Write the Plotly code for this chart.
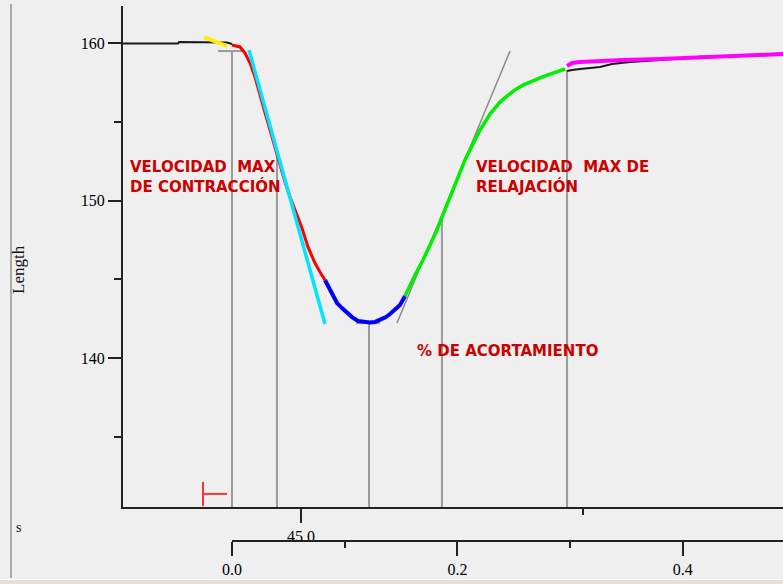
import plotly.graph_objects as go

# Sarcomere length trace (time in s, length in arbitrary units)
base_t = [-0.0967, -0.0479, -0.0470, -0.0089, -0.0044, 0.0]
base_L = [159.97, 159.97, 160.06, 160.06, 160.03, 159.94]

baseline_fit_t = [-0.0248, -0.0151, -0.0044]
baseline_fit_L = [160.38, 160.13, 159.81]

contr_t = [0.0, 0.0071, 0.0115, 0.0160, 0.0204, 0.0248, 0.0293, 0.0337, 0.0382,
           0.0426, 0.0470, 0.0515, 0.0577, 0.0621, 0.0674, 0.0736, 0.0781, 0.0825]
contr_L = [159.87, 159.75, 159.37, 158.73, 157.84, 156.63, 155.56, 154.48, 153.40,
           152.19, 151.17, 150.22, 149.08, 148.25, 147.05, 146.03, 145.46, 144.95]

peak_t = [0.0825, 0.0870, 0.0932, 0.0976, 0.1020, 0.1065, 0.1118, 0.1171, 0.1224,
          0.1269, 0.1313, 0.1366, 0.1402, 0.1446, 0.1491, 0.1535]
peak_L = [144.95, 144.32, 143.49, 143.17, 142.86, 142.60, 142.35, 142.29, 142.25,
          142.29, 142.41, 142.60, 142.79, 143.05, 143.37, 143.94]

relax_t = [0.1535, 0.1579, 0.1624, 0.1695, 0.1757, 0.1819, 0.1863, 0.1934, 0.1996,
           0.2067, 0.2138, 0.2201, 0.2289, 0.2378, 0.2440, 0.2511, 0.2582, 0.2662,
           0.2733, 0.2822, 0.2884, 0.2955]
relax_L = [143.94, 144.63, 145.27, 146.22, 147.17, 148.13, 148.95, 150.16, 151.30,
           152.57, 153.65, 154.48, 155.49, 156.25, 156.63, 157.02, 157.33, 157.59,
           157.78, 158.03, 158.16, 158.35]

tail_t = [0.2973, 0.3017, 0.3088, 0.3177, 0.3265, 0.3372, 0.3532, 0.3798, 0.4153,
          0.4357, 0.4508, 0.4685, 0.4889]
tail_L = [158.22, 158.29, 158.35, 158.41, 158.48, 158.67, 158.79, 158.92, 159.12,
          159.16, 159.20, 159.28, 159.33]

recov_fit_t = [0.2973, 0.3017, 0.3088, 0.3265, 0.3469, 0.3798, 0.4153, 0.4357, 0.4685, 0.4889]
recov_fit_L = [158.54, 158.73, 158.79, 158.86, 158.92, 158.98, 159.08, 159.11, 159.24, 159.30]

# Tangents at maximal contraction and relaxation velocity
vmax_contr_t = [0.0151, 0.0825]
vmax_contr_L = [159.56, 142.16]
vmax_relax_t = [0.1464, 0.2467]
vmax_relax_L = [142.22, 159.49]

# Event markers: onset, max contraction velocity, peak shortening, max relaxation velocity, end
event_t = [0.0, 0.0399, 0.1216, 0.1863, 0.2973]
event_L = [159.49, 153.00, 142.22, 148.95, 158.29]
level_t0 = [-0.0124, 0.1100]
level_t1 = [0.0098, 0.1313]
level_L = [159.49, 142.22]

# Stimulus
stim_t = [-0.0257, -0.0044]
stim_L = [130.60, 132.13, 131.37]

y_range = [130.54, 162.35]
x_range = [-0.0967, 0.4889]

top_tickvals = [0.0612]
top_ticktext = ["45.0"]
top_minor = [0.3114]
time_tickvals = [0.0, 0.2, 0.4]
time_ticktext = ["0.0", "0.2", "0.4"]
time_minor = [0.1, 0.3]
len_tickvals = [140, 150, 160]
len_ticktext = ["140", "150", "160"]
len_minor = [135, 145, 155]

BG = "#efefef"
fig = go.Figure()


def line(x, y, color, width, axis="x"):
    fig.add_trace(go.Scatter(x=x, y=y, mode="lines", xaxis=axis, yaxis="y",
                             line=dict(color=color, width=width),
                             hoverinfo="skip", showlegend=False))


# drop lines from each event down to the axis
dx, dy = [], []
for t, L in zip(event_t, event_L):
    dx += [t, t, None]
    dy += [L, y_range[0], None]
for a, b, L in zip(level_t0, level_t1, level_L):
    dx += [a, b, None]
    dy += [L, L, None]
line(dx, dy, "#9a9a9a", 2)

line(base_t, base_L, "#1a1a1a", 2)
line(tail_t, tail_L, "#1a1a1a", 2)
line(vmax_relax_t, vmax_relax_L, "#8a8a8a", 1.5)
line(contr_t, contr_L, "#ff0000", 3)
line(vmax_contr_t, vmax_contr_L, "#00e5ff", 3.5)
line(peak_t, peak_L, "#0000ff", 4)
line(relax_t, relax_L, "#00ee00", 3.5)
line(recov_fit_t, recov_fit_L, "#ff00ff", 4)
line(baseline_fit_t, baseline_fit_L, "#ffee00", 4)

line([stim_t[0], stim_t[0], None, stim_t[0], stim_t[1]],
     [stim_L[0], stim_L[1], None, stim_L[2], stim_L[2]], "#ff3333", 2)

# empty trace so the time axis subplot is drawn
fig.add_trace(go.Scatter(x=[], y=[], xaxis="x2", yaxis="y", showlegend=False))

tick_font = dict(family="Liberation Serif", size=16, color="#000")
label_font = dict(family="DejaVu Sans", size=15, color="#cc0000", weight="bold")

fig.update_layout(
    width=783, height=584,
    margin=dict(l=123, r=0, t=6, b=43),
    paper_bgcolor=BG, plot_bgcolor="rgba(0,0,0,0)",
    showlegend=False,
    xaxis=dict(domain=[0, 1], range=x_range, anchor="y", showgrid=False, zeroline=False,
               showline=True, linecolor="#222", linewidth=2,
               ticks="outside", ticklen=14, tickwidth=2, tickcolor="#222",
               tickmode="array", tickvals=top_tickvals, ticktext=top_ticktext,
               minor=dict(tickmode="array", tickvals=top_minor, ticklen=6,
                          tickwidth=2, tickcolor="#222", ticks="outside"),
               tickfont=tick_font),
    xaxis2=dict(domain=[109 / 660, 1], range=[0, x_range[1]], anchor="free", position=0,
                showgrid=False, zeroline=False,
                showline=True, linecolor="#222", linewidth=2,
                ticks="outside", ticklen=14, tickwidth=2, tickcolor="#222",
                tickmode="array", tickvals=time_tickvals, ticktext=time_ticktext,
                minor=dict(tickmode="array", tickvals=time_minor, ticklen=6,
                           tickwidth=2, tickcolor="#222", ticks="outside"),
                tickfont=tick_font),
    yaxis=dict(domain=[34 / 535, 1], range=y_range, anchor="x", showgrid=False,
               zeroline=False, showline=True, linecolor="#222", linewidth=2,
               ticks="outside", ticklen=13, tickwidth=2, tickcolor="#222",
               tickmode="array", tickvals=len_tickvals, ticktext=len_ticktext,
               minor=dict(tickmode="array", tickvals=len_minor, ticklen=7,
                          tickwidth=2, tickcolor="#222", ticks="outside"),
               tickfont=tick_font),
    annotations=[
        dict(x=-0.0923, y=151.49, xref="x", yref="y", xanchor="left", yanchor="middle",
             align="left", showarrow=False, font=label_font,
             text="VELOCIDAD  MAX<br>DE CONTRACCIÓN"),
        dict(x=0.2147, y=151.49, xref="x", yref="y", xanchor="left", yanchor="middle",
             align="left", showarrow=False, font=label_font,
             text="VELOCIDAD  MAX DE<br>RELAJACIÓN"),
        dict(x=0.1624, y=140.44, xref="x", yref="y", xanchor="left", yanchor="middle",
             align="left", showarrow=False, font=label_font,
             text="% DE ACORTAMIENTO"),
        dict(x=-105 / 660, y=271 / 535, xref="paper", yref="paper", showarrow=False,
             xanchor="center", yanchor="middle", textangle=-90,
             font=dict(family="Liberation Serif", size=17, color="#111"),
             text="Length"),
        dict(x=-105 / 660, y=14 / 535, xref="paper", yref="paper", showarrow=False,
             xanchor="center", yanchor="middle",
             font=dict(family="Liberation Serif", size=14, color="#111"), text="s"),
    ],
    shapes=[
        dict(type="line", xref="paper", yref="paper", x0=-112 / 660, x1=-112 / 660,
             y0=-37 / 535, y1=537 / 535, line=dict(color="#a8a8a8", width=2)),
        dict(type="rect", xref="paper", yref="paper", x0=-123 / 660, x1=1,
             y0=-43 / 535, y1=-39 / 535, line=dict(width=0), fillcolor="#e7dfd5"),
        dict(type="line", xref="paper", yref="paper", x0=-123 / 660, x1=1,
             y0=-38.5 / 535, y1=-38.5 / 535, line=dict(color="#ffffff", width=1)),
    ],
)

fig.write_html("out.html")
